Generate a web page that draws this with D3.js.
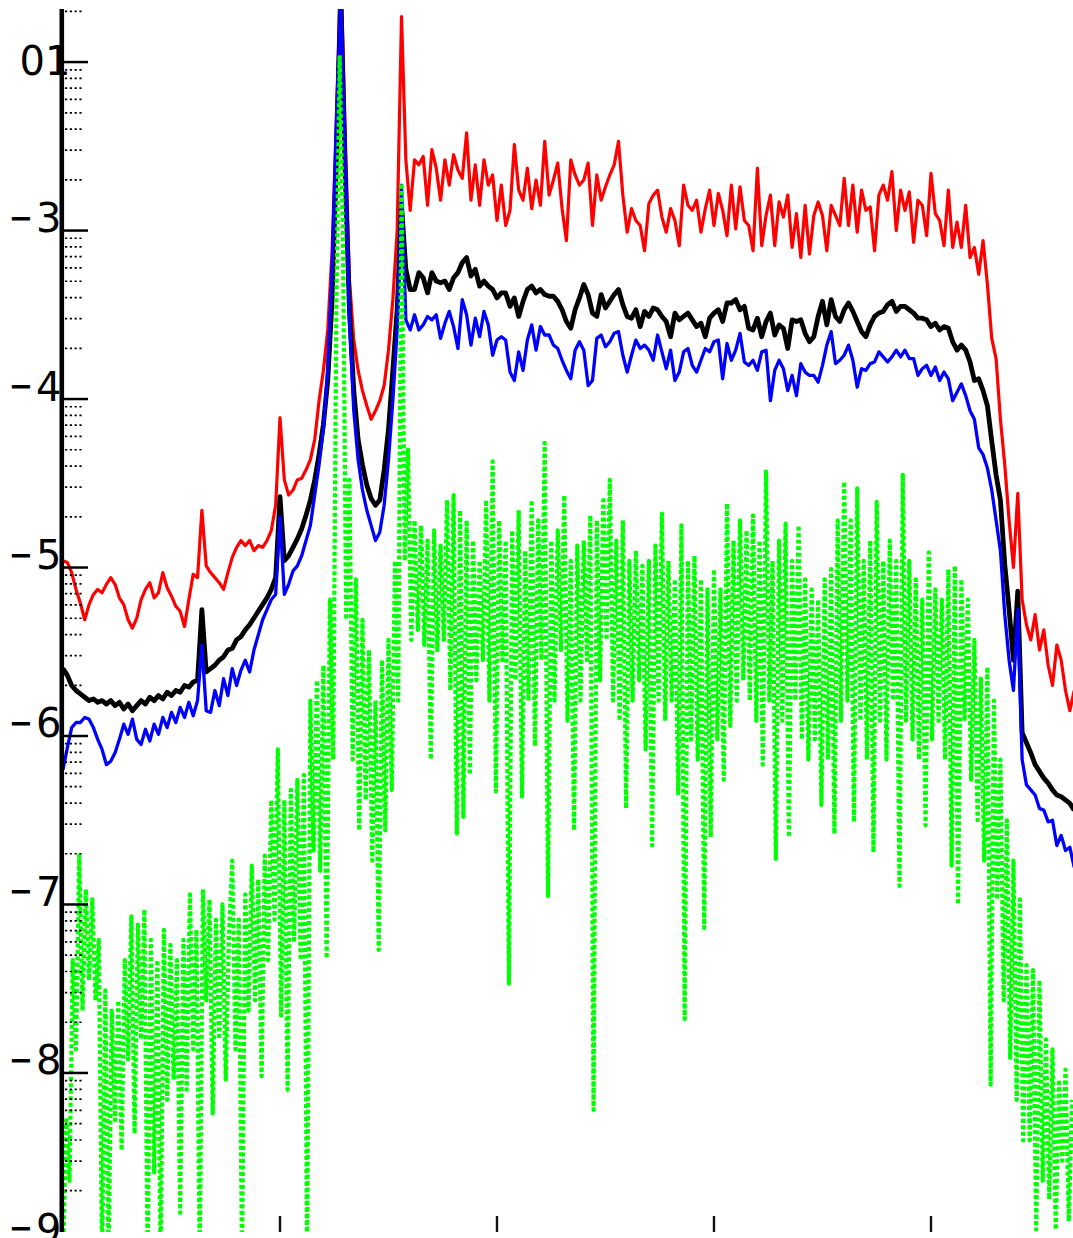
<!DOCTYPE html>
<html><head><meta charset="utf-8">
<script src="https://cdn.jsdelivr.net/npm/d3@7/dist/d3.min.js"></script>
<style>html,body{margin:0;padding:0;background:#fff;}svg{display:block;}</style>
</head><body>
<svg id="chart" width="1073" height="1238"></svg>
<script>
// log10 magnitudes, evenly spaced in x
const mainStep = 2;     // x spacing (data units) for red / black / blue
const greenStep = 1.5;  // x spacing for the dotted green series

const redLog = [
-4.96,-4.97,-5.03,-5.13,-5.21,-5.31,-5.22,-5.16,-5.13,-5.15,
-5.10,-5.06,-5.10,-5.18,-5.22,-5.31,-5.36,-5.30,-5.19,-5.13,
-5.09,-5.18,-5.15,-5.03,-5.12,-5.17,-5.23,-5.26,-5.35,-5.19,
-5.04,-5.06,-4.66,-4.99,-5.03,-5.06,-5.09,-5.13,-5.03,-4.94,
-4.88,-4.84,-4.87,-4.84,-4.90,-4.87,-4.88,-4.84,-4.78,-4.63,
-4.11,-4.48,-4.57,-4.54,-4.48,-4.47,-4.42,-4.36,-4.24,-4.01,
-3.83,-3.59,-3.12,-2.34,-1.40,-2.40,-3.29,-3.65,-3.83,-3.95,
-4.04,-4.12,-4.07,-4.01,-3.92,-3.71,-3.41,-3.00,-1.73,-2.58,
-2.88,-2.58,-2.61,-2.56,-2.85,-2.52,-2.63,-2.82,-2.58,-2.73,
-2.55,-2.64,-2.69,-2.42,-2.82,-2.61,-2.85,-2.58,-2.73,-2.67,
-2.94,-2.73,-2.97,-2.88,-2.49,-2.76,-2.82,-2.63,-2.87,-2.70,
-2.85,-2.47,-2.79,-2.70,-2.60,-2.87,-3.06,-2.58,-2.67,-2.73,
-2.70,-2.60,-2.97,-2.67,-2.82,-2.74,-2.67,-2.61,-2.47,-2.79,
-3.01,-2.87,-2.94,-2.97,-3.12,-2.84,-2.79,-2.76,-2.92,-3.01,
-2.87,-2.94,-3.09,-2.73,-2.85,-2.88,-2.82,-3.01,-2.87,-2.76,
-2.97,-2.78,-2.88,-3.03,-2.73,-2.99,-2.74,-2.94,-2.97,-3.12,
-2.63,-3.09,-2.91,-2.79,-3.09,-2.83,-2.92,-2.79,-3.10,-2.90,
-3.16,-2.85,-3.14,-2.91,-2.83,-2.91,-3.12,-2.85,-2.91,-2.97,
-2.69,-2.97,-2.73,-3.01,-2.76,-2.88,-2.86,-3.12,-2.79,-2.73,
-2.82,-2.65,-3.00,-2.76,-2.88,-2.77,-3.07,-2.82,-2.85,-3.03,
-2.66,-2.90,-2.94,-3.09,-2.76,-3.10,-2.95,-3.10,-2.85,-3.16,
-3.10,-3.26,-3.06,-3.32,-3.64,-3.76,-4.12,-4.39,-4.72,-5.00,
-4.56,-5.19,-5.34,-5.43,-5.28,-5.49,-5.37,-5.58,-5.70,-5.46,
-5.55,-5.73,-5.85,-5.73];

const blackLog = [
-5.60,-5.64,-5.70,-5.73,-5.75,-5.77,-5.79,-5.78,-5.80,-5.79,
-5.81,-5.79,-5.82,-5.80,-5.84,-5.81,-5.85,-5.82,-5.79,-5.81,
-5.77,-5.79,-5.76,-5.78,-5.74,-5.76,-5.73,-5.74,-5.70,-5.71,
-5.68,-5.67,-5.25,-5.62,-5.60,-5.58,-5.55,-5.53,-5.49,-5.48,
-5.43,-5.41,-5.37,-5.34,-5.30,-5.26,-5.22,-5.18,-5.13,-5.06,
-4.58,-4.96,-4.93,-4.88,-4.83,-4.77,-4.69,-4.60,-4.48,-4.33,
-4.15,-3.89,-3.41,-2.58,-1.60,-2.64,-3.47,-3.95,-4.24,-4.39,
-4.51,-4.59,-4.63,-4.60,-4.42,-4.18,-3.83,-3.47,-2.85,-3.23,
-3.35,-3.35,-3.25,-3.28,-3.37,-3.25,-3.30,-3.31,-3.30,-3.35,
-3.28,-3.25,-3.19,-3.16,-3.27,-3.23,-3.33,-3.30,-3.33,-3.35,
-3.40,-3.37,-3.37,-3.45,-3.40,-3.51,-3.42,-3.35,-3.33,-3.37,
-3.35,-3.38,-3.39,-3.39,-3.42,-3.47,-3.54,-3.58,-3.47,-3.40,
-3.32,-3.38,-3.49,-3.51,-3.38,-3.46,-3.42,-3.38,-3.35,-3.44,
-3.51,-3.52,-3.47,-3.57,-3.48,-3.51,-3.46,-3.47,-3.51,-3.54,
-3.63,-3.49,-3.53,-3.51,-3.49,-3.53,-3.57,-3.55,-3.63,-3.52,
-3.49,-3.47,-3.54,-3.43,-3.43,-3.41,-3.47,-3.45,-3.58,-3.59,
-3.52,-3.63,-3.54,-3.49,-3.62,-3.56,-3.58,-3.70,-3.53,-3.54,
-3.53,-3.61,-3.66,-3.63,-3.51,-3.42,-3.56,-3.41,-3.51,-3.54,
-3.47,-3.43,-3.48,-3.54,-3.60,-3.63,-3.56,-3.51,-3.49,-3.48,
-3.44,-3.42,-3.48,-3.45,-3.45,-3.47,-3.49,-3.52,-3.52,-3.53,
-3.57,-3.55,-3.59,-3.57,-3.58,-3.66,-3.71,-3.68,-3.71,-3.78,
-3.89,-3.88,-3.95,-4.04,-4.25,-4.45,-4.60,-4.98,-5.25,-5.55,
-5.14,-5.98,-6.04,-6.10,-6.17,-6.21,-6.25,-6.28,-6.32,-6.35,
-6.36,-6.38,-6.40,-6.44];

const blueLog = [
-6.20,-6.07,-5.95,-5.92,-5.92,-5.89,-5.90,-5.95,-6.02,-6.08,
-6.17,-6.15,-6.10,-6.02,-5.93,-5.99,-5.90,-6.02,-6.05,-5.96,
-6.03,-5.93,-5.99,-5.89,-5.95,-5.86,-5.92,-5.83,-5.89,-5.80,
-5.88,-5.79,-5.46,-5.85,-5.86,-5.73,-5.82,-5.66,-5.76,-5.60,
-5.70,-5.61,-5.55,-5.62,-5.49,-5.40,-5.31,-5.25,-5.19,-5.16,
-4.70,-5.16,-5.10,-5.02,-4.99,-4.93,-4.84,-4.75,-4.57,-4.39,
-4.18,-3.83,-3.23,-2.34,-1.60,-2.52,-3.53,-4.07,-4.36,-4.54,
-4.66,-4.75,-4.84,-4.79,-4.63,-4.36,-4.01,-3.59,-2.73,-3.53,
-3.59,-3.50,-3.59,-3.56,-3.51,-3.53,-3.50,-3.64,-3.55,-3.48,
-3.57,-3.70,-3.41,-3.50,-3.68,-3.52,-3.63,-3.48,-3.56,-3.74,
-3.65,-3.63,-3.65,-3.84,-3.89,-3.72,-3.83,-3.65,-3.56,-3.71,
-3.57,-3.62,-3.62,-3.68,-3.70,-3.77,-3.83,-3.88,-3.71,-3.66,
-3.71,-3.92,-3.89,-3.64,-3.62,-3.69,-3.66,-3.61,-3.60,-3.74,
-3.84,-3.74,-3.65,-3.70,-3.68,-3.71,-3.77,-3.62,-3.72,-3.82,
-3.71,-3.89,-3.84,-3.72,-3.70,-3.80,-3.84,-3.77,-3.70,-3.72,
-3.66,-3.65,-3.88,-3.67,-3.77,-3.71,-3.61,-3.78,-3.80,-3.77,
-3.83,-3.72,-3.71,-4.01,-3.83,-3.77,-3.82,-3.95,-3.86,-3.98,
-3.79,-3.84,-3.86,-3.86,-3.90,-3.80,-3.68,-3.60,-3.79,-3.77,
-3.74,-3.68,-3.77,-3.93,-3.82,-3.83,-3.79,-3.78,-3.72,-3.75,
-3.78,-3.75,-3.71,-3.75,-3.71,-3.76,-3.76,-3.86,-3.82,-3.80,
-3.86,-3.81,-3.89,-3.84,-3.88,-4.01,-3.96,-3.91,-3.98,-4.07,
-4.12,-4.29,-4.33,-4.41,-4.54,-4.72,-4.90,-5.28,-5.55,-5.73,
-5.25,-6.14,-6.29,-6.32,-6.35,-6.43,-6.44,-6.51,-6.50,-6.65,
-6.59,-6.68,-6.66,-6.78];

const greenLog = [
-9.1,-8.28,-8.64,-7.33,-7.86,-6.71,-7.63,-6.91,-7.45,-6.97,
-7.57,-7.21,-9.1,-7.51,-9.1,-7.63,-8.28,-7.57,-8.46,-7.33,
-7.92,-7.07,-8.36,-7.12,-7.80,-7.03,-9.1,-7.21,-8.59,-7.33,
-9.1,-7.15,-8.16,-7.24,-8.04,-7.33,-8.83,-7.21,-8.10,-6.94,
-7.86,-7.15,-9.1,-6.91,-7.57,-6.97,-8.24,-7.09,-7.80,-7.00,
-8.04,-7.18,-6.74,-7.86,-7.09,-9.1,-6.94,-7.63,-6.77,-7.57,
-6.85,-8.02,-6.71,-7.33,-6.38,-7.09,-6.08,-7.66,-6.38,-8.10,
-6.32,-7.21,-6.26,-7.33,-6.23,-9.1,-5.79,-6.68,-5.67,-6.80,
-5.58,-7.32,-5.19,-6.14,-3.41,-1.96,-3.00,-5.31,-4.48,-6.14,
-5.07,-6.56,-5.31,-6.38,-5.49,-6.74,-5.79,-7.27,-5.55,-6.56,
-5.43,-6.32,-4.96,-5.79,-2.72,-4.96,-4.30,-5.43,-4.72,-5.37,
-4.75,-5.46,-4.84,-6.14,-4.78,-5.49,-4.87,-5.43,-4.60,-5.73,
-4.57,-6.58,-4.66,-6.48,-4.72,-6.23,-4.84,-5.67,-4.96,-5.55,
-4.60,-5.79,-4.37,-6.33,-4.72,-5.55,-4.84,-7.47,-4.78,-5.67,
-4.66,-6.36,-4.90,-5.79,-4.60,-6.06,-4.72,-5.55,-4.26,-6.95,
-4.84,-5.79,-4.78,-5.49,-4.57,-5.91,-4.96,-6.56,-4.87,-5.79,
-4.84,-5.55,-4.69,-8.22,-4.72,-5.67,-4.60,-5.43,-4.48,-5.79,
-4.84,-5.91,-4.72,-6.43,-4.96,-5.79,-4.90,-5.67,-4.99,-6.08,
-4.96,-6.65,-4.87,-5.79,-4.68,-5.91,-4.96,-5.79,-5.07,-6.35,
-4.75,-7.68,-4.96,-6.02,-4.93,-6.14,-5.07,-7.14,-5.13,-6.60,
-5.01,-6.02,-5.13,-6.26,-4.62,-5.94,-4.84,-5.79,-4.72,-5.67,
-4.78,-5.79,-4.69,-5.91,-4.84,-6.17,-4.42,-5.79,-4.96,-6.73,
-4.84,-5.91,-4.74,-6.60,-4.96,-5.79,-4.75,-6.02,-5.07,-6.14,
-5.13,-6.02,-5.19,-6.41,-5.07,-6.14,-5.01,-6.58,-4.72,-5.91,
-4.49,-5.79,-4.72,-6.51,-4.53,-5.91,-4.96,-6.14,-4.84,-6.69,
-4.61,-5.91,-4.96,-6.14,-4.84,-5.79,-4.96,-6.89,-4.45,-5.91,
-4.96,-6.02,-5.07,-6.14,-5.19,-6.53,-4.91,-6.02,-5.13,-5.91,
-5.19,-6.14,-5.01,-6.77,-4.99,-7.00,-5.07,-5.91,-5.19,-6.26,
-5.43,-6.50,-5.66,-6.74,-5.59,-8.07,-5.79,-6.97,-6.14,-7.57,
-6.50,-7.92,-6.74,-8.16,-6.97,-8.40,-7.36,-8.40,-7.39,-8.93,
-7.45,-8.64,-7.80,-8.75,-7.86,-8.93,-8.04,-8.52,-7.98,-8.88,-8.16];

const yTickValues = [-2, -3, -4, -5, -6, -7, -8, -9];
const yTickLabels = ["01", "−3", "−4", "−5", "−6", "−7", "−8", "−9"];
const xTickValues = [100, 200, 300, 400];

const svg = d3.select("#chart");
const x = d3.scaleLinear().domain([0, 466]).range([63, 1074.2]);
const y = d3.scaleLinear().domain([-1.685, -8.944]).range([9, 1232]);

svg.append("defs").append("clipPath").attr("id", "plotclip")
  .append("rect").attr("x", 62).attr("y", 9).attr("width", 1020).attr("height", 1223);

const plot = svg.append("g").attr("clip-path", "url(#plotclip)");
function lineFor(step) {
  return d3.line().x((d, i) => x(i * step)).y(d => y(d));
}
const series = [
  {data: redLog, step: mainStep, color: "#ff0000", w: 3.2, dash: null},
  {data: blackLog, step: mainStep, color: "#000000", w: 4.8, dash: null},
  {data: blueLog, step: mainStep, color: "#0000ff", w: 3.3, dash: null},
  {data: greenLog, step: greenStep, color: "#00ff00", w: 4.2, dash: "4,2.5"}
];
series.forEach(s => {
  const p = plot.append("path").datum(s.data)
    .attr("d", lineFor(s.step))
    .attr("fill", "none").attr("stroke", s.color)
    .attr("stroke-width", s.w).attr("stroke-linejoin", "round");
  if (s.dash) p.attr("stroke-dasharray", s.dash);
});

// minor (dotted) y ticks
const minor = [];
for (let n = -9; n <= -2; n++) for (let k = 2; k <= 9; k++) {
  const v = n + Math.log10(k);
  if (v <= -1.685 && v >= -8.944) minor.push(v);
}
svg.append("g").selectAll("line").data(minor).join("line")
  .attr("x1", 65).attr("x2", 84).attr("y1", d => y(d)).attr("y2", d => y(d))
  .attr("stroke", "#000").attr("stroke-width", 1.7).attr("stroke-dasharray", "2.2,2.6");

// major y ticks
svg.append("g").selectAll("line").data(yTickValues.filter(v => v >= -8.944)).join("line")
  .attr("x1", 60).attr("x2", 88).attr("y1", d => y(d)).attr("y2", d => y(d))
  .attr("stroke", "#000").attr("stroke-width", 2.5);

// x ticks (inward, bottom)
svg.append("g").selectAll("line").data(xTickValues).join("line")
  .attr("x1", d => x(d)).attr("x2", d => x(d)).attr("y1", 1216).attr("y2", 1232)
  .attr("stroke", "#111").attr("stroke-width", 2.4);

// left spine
svg.append("line").attr("x1", 61.8).attr("x2", 61.8).attr("y1", 9).attr("y2", 1232)
  .attr("stroke", "#000").attr("stroke-width", 4.6);

// y tick labels (the bottom one is cut by the frame edge, as in the source)
const lab = svg.append("g").attr("font-family", "DejaVu Sans").attr("fill", "#000");
yTickValues.forEach((v, i) => {
  const t = yTickLabels[i];
  const ty = y(v);
  if (t.startsWith("−")) {
    lab.append("text").attr("x", 21).attr("y", ty - 3).attr("text-anchor", "middle")
      .attr("font-size", 29).attr("font-weight", "bold").text("−");
    lab.append("text").attr("x", 36).attr("y", ty + 1.5).attr("font-size", 40).text(t.slice(1));
  } else {
    lab.append("text").attr("x", 19.5).attr("y", ty + 13).attr("font-size", 40).text(t);
  }
});
</script>
</body></html>
